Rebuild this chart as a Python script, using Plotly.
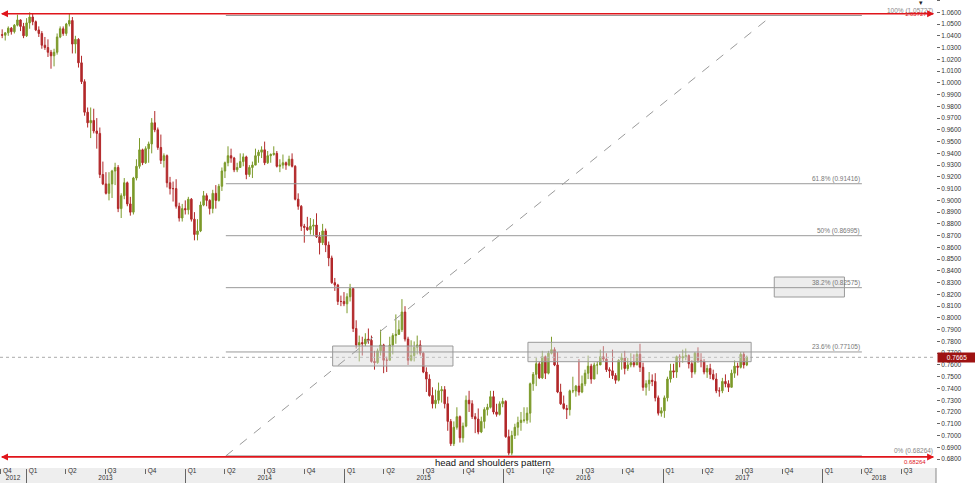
import pandas as pd
import plotly.graph_objects as go

# ---------------- data (weekly AUD/USD) ----------------
week_start = "2012-11-07"
opens = [
 1.0410,1.0405,1.0425,1.0465,1.0435,1.0490,1.0535,1.0480,1.0400,1.0510,
 1.0560,1.0520,1.0450,1.0420,1.0320,1.0300,1.0260,1.0230,1.0260,1.0390,
 1.0460,1.0420,1.0500,1.0530,1.0330,1.0370,1.0170,1.0010,0.9750,0.9660,
 0.9680,0.9590,0.9570,0.9220,0.9140,0.9060,0.9140,0.9250,0.9280,0.8930,
 0.9040,0.9150,0.8970,0.8900,0.9190,0.9290,0.9430,0.9320,0.9440,0.9480,
 0.9660,0.9600,0.9450,0.9340,0.9380,0.9150,0.9100,0.9100,0.8950,0.8850,
 0.8930,0.8920,0.9010,0.8840,0.8710,0.8740,0.8960,0.9040,0.9000,0.8930,
 0.9060,0.9000,0.9120,0.9250,0.9320,0.9380,0.9360,0.9260,0.9280,0.9330,
 0.9370,0.9220,0.9280,0.9300,0.9380,0.9410,0.9430,0.9320,0.9380,0.9390,
 0.9400,0.9290,0.9300,0.9320,0.9300,0.9350,0.9290,0.9010,0.8950,0.8780,
 0.8770,0.8750,0.8780,0.8790,0.8690,0.8640,0.8740,0.8620,0.8510,0.8300,
 0.8280,0.8140,0.8140,0.8120,0.8180,0.8250,0.7910,0.7770,0.7790,0.7780,
 0.7820,0.7810,0.7630,0.7620,0.7720,0.7770,0.7640,0.7640,0.7770,0.7850,
 0.7860,0.7900,0.8050,0.7820,0.7640,0.7680,0.7750,0.7770,0.7700,0.7540,
 0.7480,0.7340,0.7270,0.7300,0.7380,0.7390,0.7270,0.7120,0.6930,0.7070,
 0.7160,0.6980,0.7080,0.7300,0.7270,0.7160,0.7140,0.7030,0.7120,0.7220,
 0.7240,0.7330,0.7200,0.7180,0.7270,0.7290,0.6990,0.6850,0.7000,0.7070,
 0.7110,0.7130,0.7130,0.7190,0.7440,0.7520,0.7610,0.7490,0.7670,0.7530,
 0.7700,0.7730,0.7600,0.7370,0.7270,0.7230,0.7220,0.7380,0.7380,0.7420,
 0.7370,0.7440,0.7530,0.7590,0.7480,0.7600,0.7600,0.7670,0.7650,0.7560,
 0.7550,0.7510,0.7470,0.7640,0.7660,0.7570,0.7600,0.7620,0.7600,0.7690,
 0.7580,0.7410,0.7440,0.7470,0.7460,0.7320,0.7190,0.7210,0.7320,0.7480,
 0.7550,0.7540,0.7670,0.7660,0.7670,0.7680,0.7610,0.7540,0.7700,0.7640,
 0.7630,0.7540,0.7570,0.7520,0.7480,0.7380,0.7380,0.7460,0.7440,0.7410,
 0.7530,0.7590,0.7580,0.7690,0.7600]
highs = [
 1.0455,1.0430,1.0480,1.0475,1.0500,1.0580,1.0540,1.0510,1.0550,1.0600,
 1.0590,1.0530,1.0480,1.0440,1.0390,1.0370,1.0280,1.0290,1.0420,1.0480,
 1.0480,1.0510,1.0585,1.0560,1.0400,1.0380,1.0230,1.0030,0.9790,0.9790,
 0.9780,0.9700,0.9620,0.9330,0.9240,0.9240,0.9260,0.9320,0.9300,0.9060,
 0.9190,0.9160,0.9030,0.9200,0.9350,0.9530,0.9440,0.9460,0.9500,0.9700,
 0.9760,0.9620,0.9560,0.9400,0.9390,0.9200,0.9160,0.9180,0.8980,0.8970,
 0.9000,0.9030,0.9020,0.8900,0.8840,0.8990,0.9080,0.9060,0.9010,0.9090,
 0.9130,0.9140,0.9280,0.9330,0.9460,0.9440,0.9370,0.9320,0.9400,0.9400,
 0.9380,0.9300,0.9330,0.9440,0.9430,0.9460,0.9500,0.9420,0.9400,0.9460,
 0.9420,0.9350,0.9390,0.9330,0.9380,0.9400,0.9300,0.9060,0.8960,0.8800,
 0.8860,0.8850,0.8840,0.8890,0.8730,0.8800,0.8760,0.8650,0.8530,0.8340,
 0.8290,0.8190,0.8220,0.8210,0.8290,0.8250,0.7980,0.7850,0.7840,0.7870,
 0.7910,0.7850,0.7720,0.7740,0.7900,0.7780,0.7670,0.7840,0.7870,0.8030,
 0.7980,0.8160,0.8100,0.7840,0.7810,0.7800,0.7850,0.7810,0.7710,0.7580,
 0.7520,0.7410,0.7390,0.7450,0.7420,0.7420,0.7330,0.7140,0.7120,0.7240,
 0.7170,0.7110,0.7340,0.7380,0.7300,0.7190,0.7230,0.7160,0.7240,0.7270,
 0.7380,0.7380,0.7270,0.7290,0.7320,0.7300,0.7050,0.7040,0.7100,0.7160,
 0.7200,0.7240,0.7240,0.7450,0.7540,0.7660,0.7630,0.7720,0.7680,0.7720,
 0.7840,0.7750,0.7710,0.7440,0.7340,0.7260,0.7390,0.7500,0.7430,0.7650,
 0.7510,0.7560,0.7680,0.7610,0.7620,0.7630,0.7730,0.7760,0.7700,0.7580,
 0.7730,0.7530,0.7650,0.7700,0.7720,0.7660,0.7700,0.7690,0.7720,0.7780,
 0.7620,0.7470,0.7540,0.7520,0.7530,0.7340,0.7240,0.7340,0.7500,0.7610,
 0.7610,0.7680,0.7690,0.7730,0.7740,0.7690,0.7640,0.7710,0.7750,0.7700,
 0.7650,0.7600,0.7610,0.7560,0.7530,0.7410,0.7490,0.7520,0.7470,0.7560,
 0.7640,0.7620,0.7710,0.7710,0.7680]
lows = [
 1.0380,1.0360,1.0400,1.0410,1.0420,1.0480,1.0440,1.0380,1.0390,1.0460,
 1.0490,1.0440,1.0390,1.0290,1.0280,1.0220,1.0120,1.0140,1.0240,1.0380,
 1.0400,1.0400,1.0480,1.0250,1.0250,1.0130,0.9990,0.9720,0.9620,0.9530,
 0.9570,0.9440,0.9190,0.9130,0.9050,0.9000,0.9020,0.9130,0.8900,0.8850,
 0.9010,0.8950,0.8870,0.8880,0.9170,0.9270,0.9300,0.9310,0.9320,0.9400,
 0.9580,0.9430,0.9310,0.9280,0.9110,0.9050,0.8990,0.8930,0.8820,0.8820,
 0.8880,0.8880,0.8820,0.8660,0.8660,0.8730,0.8950,0.8950,0.8880,0.8890,
 0.8930,0.8990,0.9080,0.9190,0.9290,0.9320,0.9240,0.9240,0.9280,0.9290,
 0.9180,0.9200,0.9190,0.9300,0.9320,0.9360,0.9300,0.9310,0.9320,0.9380,
 0.9280,0.9240,0.9270,0.9260,0.9290,0.9280,0.9000,0.8920,0.8740,0.8640,
 0.8740,0.8710,0.8700,0.8680,0.8540,0.8620,0.8560,0.8440,0.8290,0.8230,
 0.8110,0.8100,0.8100,0.8040,0.8140,0.7880,0.7740,0.7630,0.7680,0.7760,
 0.7780,0.7620,0.7560,0.7610,0.7680,0.7530,0.7540,0.7640,0.7690,0.7780,
 0.7860,0.7880,0.7800,0.7600,0.7630,0.7630,0.7690,0.7680,0.7530,0.7370,
 0.7330,0.7230,0.7230,0.7270,0.7280,0.7230,0.7040,0.6910,0.6910,0.7050,
 0.6940,0.6940,0.7070,0.7200,0.7140,0.7020,0.7010,0.7020,0.7060,0.7170,
 0.7230,0.7180,0.7160,0.7170,0.7240,0.6980,0.6830,0.6830,0.6970,0.7000,
 0.7040,0.7110,0.7100,0.7110,0.7380,0.7420,0.7480,0.7480,0.7480,0.7520,
 0.7690,0.7590,0.7360,0.7260,0.7220,0.7140,0.7170,0.7360,0.7330,0.7340,
 0.7360,0.7420,0.7480,0.7440,0.7480,0.7520,0.7600,0.7630,0.7540,0.7490,
 0.7480,0.7440,0.7460,0.7560,0.7520,0.7550,0.7580,0.7580,0.7600,0.7540,
 0.7380,0.7340,0.7380,0.7420,0.7290,0.7170,0.7160,0.7150,0.7290,0.7450,
 0.7490,0.7490,0.7580,0.7620,0.7640,0.7570,0.7490,0.7520,0.7620,0.7580,
 0.7520,0.7490,0.7480,0.7470,0.7360,0.7330,0.7360,0.7410,0.7370,0.7410,
 0.7490,0.7510,0.7570,0.7570,0.7590]
closes = [
 1.0405,1.0425,1.0465,1.0435,1.0490,1.0535,1.0480,1.0400,1.0510,1.0560,
 1.0520,1.0450,1.0420,1.0320,1.0300,1.0260,1.0230,1.0260,1.0390,1.0460,
 1.0420,1.0500,1.0530,1.0330,1.0370,1.0170,1.0010,0.9750,0.9660,0.9680,
 0.9590,0.9570,0.9220,0.9140,0.9060,0.9140,0.9250,0.9280,0.8930,0.9040,
 0.9150,0.8970,0.8900,0.9190,0.9290,0.9430,0.9320,0.9440,0.9480,0.9660,
 0.9600,0.9450,0.9340,0.9380,0.9150,0.9100,0.9100,0.8950,0.8850,0.8930,
 0.8920,0.9010,0.8840,0.8710,0.8740,0.8960,0.9040,0.9000,0.8930,0.9060,
 0.9000,0.9120,0.9250,0.9320,0.9380,0.9360,0.9260,0.9280,0.9330,0.9370,
 0.9220,0.9280,0.9300,0.9380,0.9410,0.9430,0.9320,0.9380,0.9390,0.9400,
 0.9290,0.9300,0.9320,0.9300,0.9350,0.9290,0.9010,0.8950,0.8780,0.8770,
 0.8750,0.8780,0.8790,0.8690,0.8640,0.8740,0.8620,0.8510,0.8300,0.8280,
 0.8140,0.8140,0.8120,0.8180,0.8250,0.7910,0.7770,0.7790,0.7780,0.7820,
 0.7810,0.7630,0.7620,0.7720,0.7770,0.7640,0.7640,0.7770,0.7850,0.7860,
 0.7900,0.8050,0.7820,0.7640,0.7680,0.7750,0.7770,0.7700,0.7540,0.7480,
 0.7340,0.7270,0.7300,0.7380,0.7390,0.7270,0.7120,0.6930,0.7070,0.7160,
 0.6980,0.7080,0.7300,0.7270,0.7160,0.7140,0.7030,0.7120,0.7220,0.7240,
 0.7330,0.7200,0.7180,0.7270,0.7290,0.6990,0.6850,0.7000,0.7070,0.7110,
 0.7130,0.7130,0.7190,0.7440,0.7520,0.7610,0.7490,0.7670,0.7530,0.7700,
 0.7730,0.7600,0.7370,0.7270,0.7230,0.7220,0.7380,0.7380,0.7420,0.7370,
 0.7440,0.7530,0.7590,0.7480,0.7600,0.7600,0.7670,0.7650,0.7560,0.7550,
 0.7510,0.7470,0.7640,0.7660,0.7570,0.7600,0.7620,0.7600,0.7690,0.7580,
 0.7410,0.7440,0.7470,0.7460,0.7320,0.7190,0.7210,0.7320,0.7480,0.7550,
 0.7540,0.7670,0.7660,0.7670,0.7680,0.7610,0.7540,0.7700,0.7640,0.7630,
 0.7540,0.7570,0.7520,0.7480,0.7380,0.7380,0.7460,0.7440,0.7410,0.7530,
 0.7590,0.7580,0.7690,0.7600,0.7667]

fib_levels = [1.05727, 0.91416, 0.86995, 0.82575, 0.77105, 0.68264]
fib_labels = ["100% (1.05727)", "61.8% (0.91416)", "50% (0.86995)",
              "38.2% (0.82575)", "23.6% (0.77105)", "0% (0.68264)"]
red_levels = [1.0588, 0.6818]
last_price = 0.7665

quarter_ticks = ["2012-11-03"] + [f"{y}-{m:02d}-01" for y in range(2013, 2019) for m in (1, 4, 7, 10)][:-1]
quarter_text = ["Q4"] + ["Q1", "Q2", "Q3", "Q4"] * 5 + ["Q1", "Q2", "Q3"]
year_starts = [f"{y}-01-01" for y in range(2013, 2019)]
year_label_pos = ["2012-12-02", "2013-07-02", "2014-07-02", "2015-07-02",
                  "2016-07-02", "2017-07-02", "2018-05-11"]
year_text = ["2012", "2013", "2014", "2015", "2016", "2017", "2018"]

# drawing objects (date/price anchors)
fib_x0, fib_x1 = "2014-04-04", "2018-04-02"
trend_line = (("2014-04-04", 0.68264), ("2017-09-08", 1.05727))
boxes = [("2014-12-05", "2015-09-07", 0.75911, 0.77612),
         ("2016-02-26", "2017-07-22", 0.76277, 0.77927),
         ("2017-09-13", "2018-02-21", 0.81780, 0.83482)]
note_text = "head and shoulders pattern"

# ---------------- figure ----------------
dates = pd.date_range(week_start, periods=len(closes), freq="7D")
GREEN = "#7c9a2a"
RED = "#b2282a"
FONT = "Liberation Sans, Arial, sans-serif"
XR = ["2012-11-02", "2018-09-19"]
YR = [0.67234, 1.07046]

fig = go.Figure()
fig.add_trace(go.Candlestick(
    x=dates, open=opens, high=highs, low=lows, close=closes,
    increasing=dict(line=dict(color=GREEN, width=1), fillcolor=GREEN),
    decreasing=dict(line=dict(color=RED, width=1), fillcolor=RED),
    whiskerwidth=0, showlegend=False, hoverinfo="skip"))
fig.add_trace(go.Scatter(x=year_label_pos, y=[None] * len(year_label_pos),
                         xaxis="x2", yaxis="y", showlegend=False, hoverinfo="skip"))

shapes = []
# bottom strip
shapes.append(dict(type="rect", xref="paper", yref="paper", x0=0, x1=1,
                   y0=-15 / 468, y1=0, fillcolor="#eeeeee", line=dict(width=0), layer="below"))
shapes.append(dict(type="line", xref="paper", yref="paper", x0=1, x1=1,
                   y0=-15 / 468, y1=0, line=dict(color="#888", width=1)))
# current price dotted line
shapes.append(dict(type="line", xref="paper", yref="y", x0=0, x1=1, y0=last_price, y1=last_price,
                   line=dict(color="#aaaaaa", width=1, dash="dot")))
# boxes
for x0, x1, y0, y1 in boxes:
    shapes.append(dict(type="rect", xref="x", yref="y", x0=x0, x1=x1, y0=y0, y1=y1,
                       fillcolor="rgba(215,215,215,0.45)", line=dict(color="#9a9a9a", width=1)))
# fib lines
for lv in fib_levels:
    shapes.append(dict(type="line", xref="x", yref="y", x0=fib_x0, x1=fib_x1, y0=lv, y1=lv,
                       line=dict(color="#9a9a9a", width=1)))
# trend line
(tx0, ty0), (tx1, ty1) = trend_line
shapes.append(dict(type="line", xref="x", yref="y", x0=tx0, x1=tx1, y0=ty0, y1=ty1,
                   line=dict(color="#9a9a9a", width=1, dash="dash")))
# red rays
for lv in red_levels:
    shapes.append(dict(type="line", xref="paper", yref="y", x0=0.002, x1=0.997, y0=lv, y1=lv,
                       line=dict(color="#e0151b", width=1.6)))

annotations = []
for lv, lab in zip(fib_levels, fib_labels):
    if lab.startswith("100%") or lab.startswith("0%"):
        annotations.append(dict(xref="paper", yref="y", x=0.999, y=lv, text=lab, showarrow=False,
                                xanchor="right", yanchor="bottom", yshift=-1,
                                font=dict(family=FONT, size=6.5, color="#888")))
    else:
        annotations.append(dict(xref="x", yref="y", x=fib_x1, y=lv, text=lab, showarrow=False,
                                xanchor="right", yanchor="bottom", yshift=-1,
                                font=dict(family=FONT, size=6.5, color="#777")))
# red labels
annotations.append(dict(xref="paper", yref="y", x=0.993, y=red_levels[0], text=f"{fib_levels[0]:.5f}",
                        showarrow=False, xanchor="right", yanchor="middle",
                        font=dict(family=FONT, size=6, color="#e0151b")))
annotations.append(dict(xref="paper", yref="y", x=0.991, y=red_levels[1], text=f"{fib_levels[-1]:.5f}",
                        showarrow=False, xanchor="right", yanchor="top",
                        font=dict(family=FONT, size=6, color="#e0151b")))
# arrow heads on red rays
for lv in red_levels:
    annotations.append(dict(xref="paper", yref="y", x=0.0, y=lv, ax=8, ay=0, showarrow=True,
                            arrowhead=2, arrowsize=1, arrowwidth=1.4, arrowcolor="#e0151b", text=""))
    annotations.append(dict(xref="paper", yref="y", x=0.998, y=lv, ax=-8, ay=0, showarrow=True,
                            arrowhead=2, arrowsize=1, arrowwidth=1.4, arrowcolor="#e0151b", text=""))
# pattern note
annotations.append(dict(xref="x", yref="y", x="2015-12-08", y=0.6768, text=note_text,
                        showarrow=False, xanchor="center", yanchor="middle",
                        font=dict(family=FONT, size=9.5, color="#111")))
# last price tag
annotations.append(dict(xref="paper", yref="y", x=1, y=last_price, xshift=1, text=f"{last_price:.4f}",
                        showarrow=False, xanchor="left", yanchor="middle", bgcolor="#9e1212",
                        width=36, borderpad=1, font=dict(family=FONT, size=6.5, color="white")))
# small marker at top
annotations.append(dict(xref="paper", yref="paper", x=921 / 936, y=1.0, yshift=3, text="▾",
                        showarrow=False, xanchor="center", yanchor="top",
                        font=dict(family=FONT, size=7, color="#222")))

fig.update_layout(
    width=975, height=483, margin=dict(l=0, r=39, t=0, b=15),
    paper_bgcolor="white", plot_bgcolor="white", showlegend=False,
    shapes=shapes, annotations=annotations,
    xaxis=dict(type="date", range=XR, rangeslider=dict(visible=False),
               tickmode="array", tickvals=quarter_ticks, ticktext=quarter_text,
               ticks="outside", ticklen=5, tickcolor="#666", tickwidth=1,
               ticklabelposition="outside right", ticklabelstandoff=-4, ticklabelshift=2,
               tickfont=dict(family=FONT, size=6.5, color="#333"),
               minor=dict(tickmode="array", tickvals=year_starts, ticks="outside",
                          ticklen=15, tickcolor="#666", tickwidth=1),
               showgrid=False, zeroline=False, showline=False),
    xaxis2=dict(type="date", range=XR, overlaying="x", anchor="y", side="bottom",
                tickmode="array", tickvals=year_label_pos, ticktext=year_text,
                ticks="", ticklabelstandoff=4,
                tickfont=dict(family=FONT, size=6.5, color="#333"),
                showgrid=False, zeroline=False, showline=False),
    yaxis=dict(range=YR, side="right", tickmode="linear", tick0=0.68, dtick=0.01,
               tickformat=".4f", ticks="outside", ticklen=3, tickcolor="#666",
               tickfont=dict(family=FONT, size=6.5, color="#333"),
               showgrid=False, zeroline=False, showline=False),
)

fig.write_html("out.html", config={"displayModeBar": False},
               post_script="document.body.style.margin='0px';")
